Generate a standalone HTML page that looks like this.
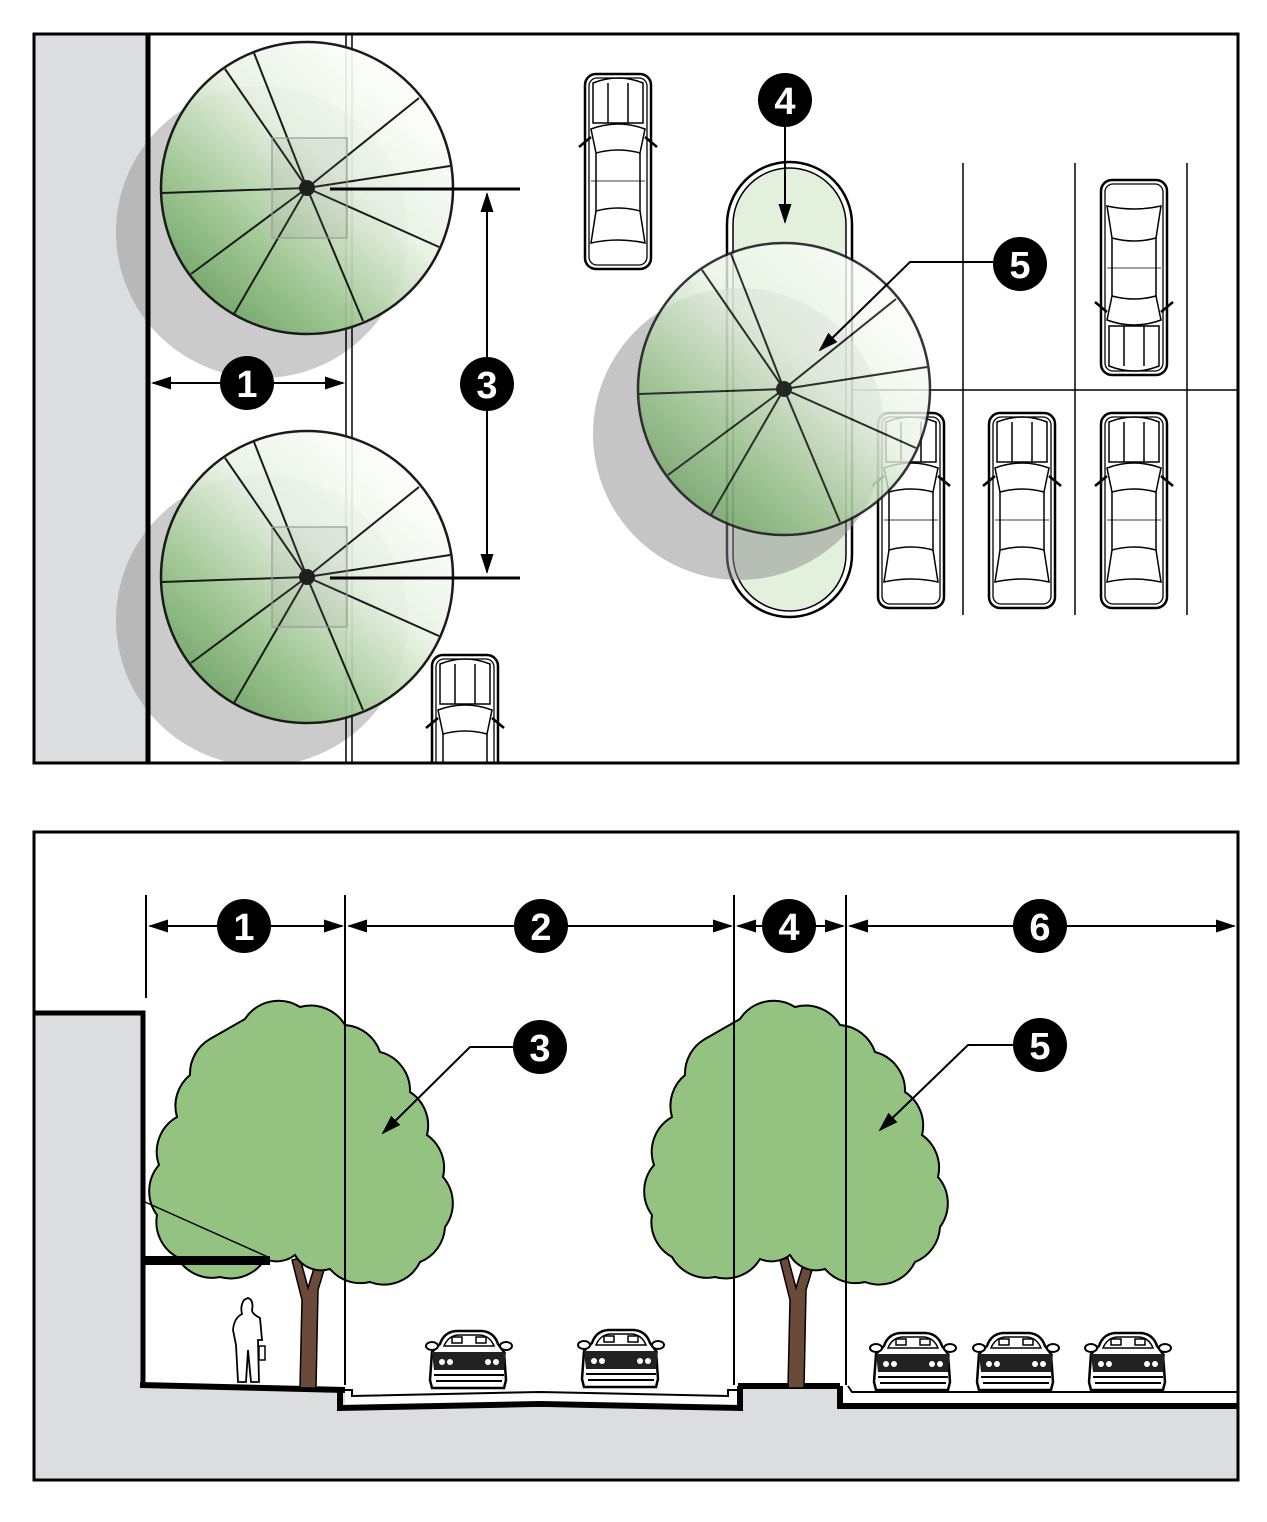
<!DOCTYPE html>
<html><head><meta charset="utf-8"><style>
html,body{margin:0;padding:0;background:#fff}
svg{display:block}
text{font-family:"Liberation Sans",sans-serif;font-weight:bold}
</style></head><body>
<svg width="1267" height="1522" viewBox="0 0 1267 1522" xmlns="http://www.w3.org/2000/svg">
<defs>
<clipPath id="planclip"><rect x="34" y="34" width="1204" height="729"/></clipPath>
<linearGradient id="tg" x1="0.85" y1="0.1" x2="0.15" y2="0.9">
<stop offset="0" stop-color="#ffffff"/><stop offset="0.4" stop-color="#e8f2e3"/><stop offset="0.75" stop-color="#9cc68e"/><stop offset="1" stop-color="#6ea364"/>
</linearGradient>
<g id="car">
<rect x="2" y="3" width="66" height="195" rx="11" fill="#fff" stroke="#000" stroke-width="2.5"/>
<rect x="6" y="7" width="58" height="187" rx="8" fill="none" stroke="#000" stroke-width="1.3"/>
<path d="M10 12 Q35 2 60 12 L60 52 L10 52 Z" fill="none" stroke="#000" stroke-width="1.5"/>
<line x1="25" y1="12" x2="25" y2="52" stroke="#000" stroke-width="1.5"/>
<line x1="45" y1="12" x2="45" y2="52" stroke="#000" stroke-width="1.5"/>
<path d="M8 58 Q35 48 62 58 L57 82 Q35 76 13 82 Z" fill="none" stroke="#000" stroke-width="1.5"/>
<path d="M13 82 L13 140 Q35 134 57 140 L57 82" fill="none" stroke="#000" stroke-width="1.5"/>
<path d="M13 140 L8 172 Q35 166 62 172 L57 140" fill="none" stroke="#000" stroke-width="1.5"/>
<path d="M8 66 L-4 76 M62 66 L74 76" stroke="#000" stroke-width="2.5"/>
<line x1="8" y1="110" x2="62" y2="110" stroke="#000" stroke-width="0.8"/>
</g>
<g id="fcar">
<path d="M14 14 Q18 2 30 1 L56 1 Q68 2 72 14 L78 22 L80 50 L78 58 L6 58 L4 50 L6 22 Z" fill="#fff" stroke="#000" stroke-width="2.5"/>
<path d="M18 16 Q22 6 32 5 L54 5 Q64 6 68 16 Z" fill="none" stroke="#000" stroke-width="1.5"/>
<rect x="26" y="7" width="10" height="6" fill="none" stroke="#000" stroke-width="1.5"/>
<rect x="50" y="7" width="10" height="6" fill="none" stroke="#000" stroke-width="1.5"/>
<ellipse cx="6" cy="16" rx="6" ry="4" fill="#fff" stroke="#000" stroke-width="2"/>
<ellipse cx="80" cy="16" rx="6" ry="4" fill="#fff" stroke="#000" stroke-width="2"/>
<path d="M6 22 L80 22 L78 40 L8 40 Z" fill="#222"/>
<circle cx="16" cy="32" r="3" fill="#fff"/><circle cx="24" cy="32" r="3" fill="#fff"/>
<circle cx="62" cy="32" r="3" fill="#fff"/><circle cx="70" cy="32" r="3" fill="#fff"/>
<line x1="8" y1="45" x2="78" y2="45" stroke="#000" stroke-width="2"/>
<line x1="10" y1="51" x2="76" y2="51" stroke="#000" stroke-width="2"/>
</g>
<g id="ptree">
<circle r="146" fill="url(#tg)" fill-opacity="0.92" stroke="#1a1a1a" stroke-width="2.5"/>
<path d="M0 0L-53 -135M0 0L-82 -119M0 0L112 -90M0 0L143 -22M0 0L-145 5M0 0L-116 86M0 0L-73 126M0 0L56 133M0 0L132 59" stroke="#1a1a1a" stroke-width="2"/>
<circle r="8" fill="#111"/>
</g>
<path id="canopy" d="M-60 -128 A40 40 0 0 1 -5 -140 A40 40 0 0 1 40 -122 A40 40 0 0 1 75 -95 A40 40 0 0 1 105 -55 A40 40 0 0 1 122 -12 A40 40 0 0 1 138 30 A40 40 0 0 1 140 80 A40 40 0 0 1 115 115 A40 40 0 0 1 65 135 A40 40 0 0 1 25 122 A30 30 0 0 1 -10 108 A30 30 0 0 1 -40 112 A40 40 0 0 1 -85 130 A40 40 0 0 1 -128 110 A40 40 0 0 1 -148 68 A40 40 0 0 1 -146 18 A40 40 0 0 1 -128 -30 A40 40 0 0 1 -115 -72 A40 40 0 0 1 -95 -108 Z" fill="#94c381" stroke="#000" stroke-width="2"/>
<marker id="ah" viewBox="0 0 10 10" refX="9" refY="5" markerWidth="20" markerHeight="13" orient="auto-start-reverse" markerUnits="userSpaceOnUse" preserveAspectRatio="none"><path d="M0 0 L10 5 L0 10 Z" fill="#000"/></marker>
</defs>

<!-- PLAN -->
<rect x="34" y="34" width="1204" height="729" fill="#fff"/>
<g clip-path="url(#planclip)">
<rect x="34" y="34" width="114" height="729" fill="#dcdddf"/>
<circle cx="262" cy="232" r="146" fill="#8c8c8c" fill-opacity="0.45"/>
<circle cx="262" cy="620" r="146" fill="#8c8c8c" fill-opacity="0.45"/>
<line x1="148" y1="34" x2="148" y2="763" stroke="#000" stroke-width="5"/>
<line x1="346" y1="34" x2="346" y2="763" stroke="#000" stroke-width="1.5"/>
<line x1="352" y1="34" x2="352" y2="763" stroke="#000" stroke-width="1.5"/>
<path d="M963 163V615M1075 163V615M1187 163V615M852 390H1240" stroke="#000" stroke-width="1.5"/>
<use href="#car" x="583" y="71"/>
<use href="#car" x="430" y="652"/>
<use href="#car" x="876" y="410"/>
<use href="#car" x="987" y="410"/>
<use href="#car" x="1099" y="410"/>
<use href="#car" transform="translate(1169 378) rotate(180)"/>
<rect x="727" y="162" width="125" height="455" rx="62.5" fill="#fff" stroke="#000" stroke-width="2.5"/>
<rect x="733" y="168" width="113" height="443" rx="56.5" fill="#e3f0dc" stroke="#000" stroke-width="1.5"/>
<circle cx="739" cy="434" r="146" fill="#8c8c8c" fill-opacity="0.5"/>
<use href="#ptree" x="307" y="188"/>
<rect x="272" y="138" width="75" height="100" fill="#888" fill-opacity="0.12" stroke="#999" stroke-width="1.2"/>
<use href="#ptree" x="307" y="577"/>
<rect x="272" y="527" width="75" height="100" fill="#888" fill-opacity="0.12" stroke="#999" stroke-width="1.2"/>
<use href="#ptree" x="784" y="389" opacity="0.88"/>
</g>
<path d="M330 189H520M330 578H520" stroke="#000" stroke-width="3"/>
<line x1="487" y1="194" x2="487" y2="572" stroke="#000" stroke-width="2" marker-start="url(#ah)" marker-end="url(#ah)"/>
<line x1="153" y1="383" x2="343" y2="383" stroke="#000" stroke-width="2" marker-start="url(#ah)" marker-end="url(#ah)"/>
<line x1="785" y1="127" x2="785" y2="222" stroke="#000" stroke-width="2" marker-end="url(#ah)"/>
<polyline points="993,262 910,262 820,350" fill="none" stroke="#000" stroke-width="2" marker-end="url(#ah)"/>
<g fill="#000"><circle cx="247" cy="383" r="27"/><circle cx="487" cy="384" r="27"/><circle cx="785" cy="100" r="27"/><circle cx="1020" cy="264" r="27"/></g>
<g fill="#fff" font-size="38" text-anchor="middle">
<text x="247" y="397">1</text><text x="487" y="398">3</text><text x="785" y="114">4</text><text x="1020" y="278">5</text></g>
<rect x="34" y="34" width="1204" height="729" fill="none" stroke="#000" stroke-width="3"/>

<!-- SECTION -->
<rect x="34" y="832" width="1204" height="648" fill="#fff"/>
<path d="M34 1385 L140 1385 L345 1390 L345 1408 L740 1408 L740 1385 L838 1385 L838 1408 L1238 1408 L1238 1480 L34 1480 Z" fill="#dcdddf"/>
<rect x="34" y="1013" width="109" height="375" fill="#dcdddf"/>
<path d="M34 1013 H143 V1385" fill="none" stroke="#000" stroke-width="5"/>
<path d="M140 1385 L345 1390" stroke="#000" stroke-width="6"/>
<path d="M345 1390 L352 1390 L352 1396 L540 1392 L728 1396 L728 1390 L740 1390" fill="none" stroke="#000" stroke-width="2"/>
<path d="M340 1388 V1408 L540 1404 L740 1408 V1386" fill="none" stroke="#000" stroke-width="6"/>
<path d="M738 1386 L840 1386" stroke="#000" stroke-width="6"/>
<path d="M848 1386 L852 1392 L1238 1392" fill="none" stroke="#000" stroke-width="2"/>
<path d="M840 1386 V1406 H1238" fill="none" stroke="#000" stroke-width="6"/>
<g fill="#6b4a3a" stroke="#000" stroke-width="1.5">
<path d="M300 1388 L302 1300 L292 1260 L300 1258 L308 1288 L318 1255 L330 1250 L318 1290 L316 1388 Z"/>
<path d="M788 1388 L790 1300 L780 1260 L788 1258 L796 1288 L806 1255 L818 1250 L806 1290 L804 1388 Z"/>
</g>
<use href="#canopy" x="305" y="1147"/>
<use href="#canopy" x="800" y="1147"/>
<rect x="145" y="1256" width="125" height="9" fill="#000"/>
<line x1="145" y1="1202" x2="268" y2="1257" stroke="#000" stroke-width="1.5"/>
<path d="M244 1300 Q240 1306 242 1314 Q234 1318 233 1330 L236 1345 L238 1382 L246 1382 L248 1350 L251 1382 L259 1382 L258 1340 L262 1340 L260 1318 Q252 1314 252 1310 Q254 1300 248 1298 Z" fill="#fff" stroke="#000" stroke-width="1.8"/>
<rect x="259" y="1346" width="6" height="14" fill="#fff" stroke="#000" stroke-width="1.5"/>
<use href="#fcar" x="426" y="1330"/>
<use href="#fcar" x="578" y="1329"/>
<use href="#fcar" x="870" y="1332"/>
<use href="#fcar" x="973" y="1332"/>
<use href="#fcar" x="1085" y="1332"/>
<path d="M146 895V998M345 895V1385M734 895V1385M846 895V1385" stroke="#000" stroke-width="2"/>
<g stroke="#000" stroke-width="2">
<line x1="150" y1="926" x2="342" y2="926" marker-start="url(#ah)" marker-end="url(#ah)"/>
<line x1="349" y1="926" x2="731" y2="926" marker-start="url(#ah)" marker-end="url(#ah)"/>
<line x1="738" y1="926" x2="843" y2="926" marker-start="url(#ah)" marker-end="url(#ah)"/>
<line x1="850" y1="926" x2="1234" y2="926" marker-start="url(#ah)" marker-end="url(#ah)"/>
</g>
<polyline points="514,1047 470,1047 383,1133" fill="none" stroke="#000" stroke-width="2" marker-end="url(#ah)"/>
<polyline points="1014,1045 968,1045 880,1130" fill="none" stroke="#000" stroke-width="2" marker-end="url(#ah)"/>
<g fill="#000"><circle cx="244" cy="926" r="27"/><circle cx="541" cy="926" r="27"/><circle cx="789" cy="926" r="27"/><circle cx="1040" cy="926" r="27"/><circle cx="540" cy="1047" r="27"/><circle cx="1040" cy="1045" r="27"/></g>
<g fill="#fff" font-size="38" text-anchor="middle">
<text x="244" y="940">1</text><text x="541" y="940">2</text><text x="789" y="940">4</text><text x="1040" y="940">6</text><text x="540" y="1061">3</text><text x="1040" y="1059">5</text></g>
<rect x="34" y="832" width="1204" height="648" fill="none" stroke="#000" stroke-width="3"/>
</svg>
</body></html>
